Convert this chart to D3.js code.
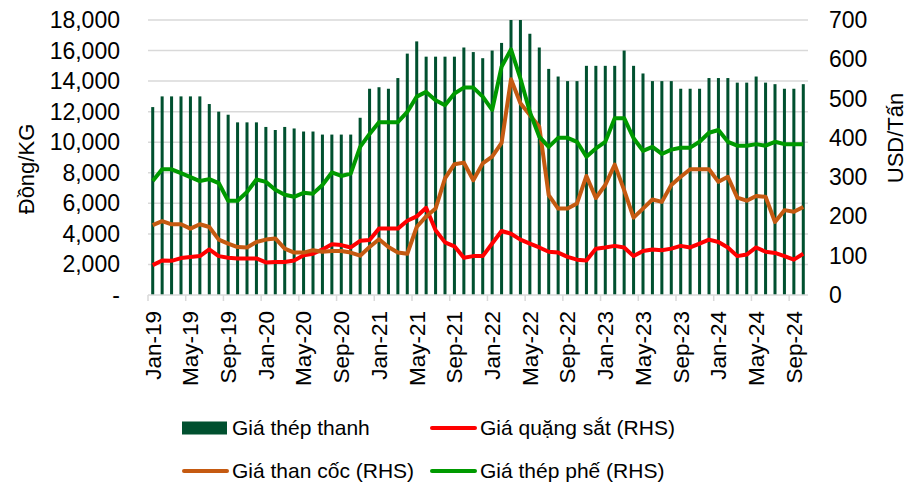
<!doctype html>
<html lang="vi">
<head>
<meta charset="utf-8" />
<title>Giá thép thanh và nguyên liệu</title>
<script src="https://d3js.org/d3.v7.min.js"></script>
<style>
  body { margin: 0; background: #fff; }
  text { font-family: "Liberation Sans", Arial, sans-serif; fill: #000; }
</style>
</head>
<body>
<script>
// categories: monthly, Jan-19 .. Oct-24
var months = d3.timeMonths(new Date(2019, 0, 1), new Date(2024, 10, 1)).map(d3.timeFormat("%b-%y"));
var tickLabels = ["Jan-19","May-19","Sep-19","Jan-20","May-20","Sep-20","Jan-21","May-21","Sep-21",
                  "Jan-22","May-22","Sep-22","Jan-23","May-23","Sep-23","Jan-24","May-24","Sep-24"];
var leftTicks = [0, 2000, 4000, 6000, 8000, 10000, 12000, 14000, 16000, 18000];
var rightTicks = [0, 100, 200, 300, 400, 500, 600, 700];

// Giá thép thanh (Đồng/KG)
var thepThanh = [12300,13000,13000,13000,13000,13000,12500,12000,11800,11300,11300,11300,
                 11000,10800,11000,10900,10700,10700,10500,10500,10500,10500,11600,13500,
                 13600,13500,14200,15800,16600,15600,15600,15600,15600,16200,15900,15500,
                 16000,16500,18000,18000,17100,16200,14800,14300,14000,14000,15000,15000,
                 15000,15000,16000,15000,14500,14000,14000,14000,13500,13500,13500,14200,
                 14200,14200,13900,13900,14300,13900,13800,13500,13500,13800];
// Giá quặng sắt (RHS, USD/Tấn)
var quangSat = [76,88,87,94,97,99,116,99,95,93,93,93,
                83,84,84,88,101,105,116,129,127,121,138,140,
                169,169,169,189,200,222,165,134,124,95,99,99,
                131,163,156,141,131,121,110,108,97,90,88,118,
                121,125,121,99,112,116,114,118,125,121,131,141,
                135,121,99,103,121,110,107,99,90,105];
// Giá than cốc (RHS)
var thanCoc = [178,188,180,180,169,180,173,141,131,122,121,135,
               141,144,118,108,108,114,110,112,112,108,100,122,
               142,122,108,105,173,200,220,297,333,337,292,335,
               352,387,549,488,458,428,254,220,220,233,303,247,
               280,332,267,197,220,243,237,280,301,320,320,320,
               288,301,248,240,252,250,186,216,212,224];
// Giá thép phế (RHS)
var thepPhe = [290,320,320,310,300,290,295,285,240,240,262,294,
               288,268,255,250,260,258,280,312,303,309,377,410,
               440,440,440,466,505,517,496,483,513,528,528,505,
               471,581,625,551,466,403,377,400,400,390,352,373,
               390,450,450,399,367,377,359,370,375,375,390,413,
               420,390,380,380,384,380,390,384,384,384];

var w = 923, h = 485;
var plotL = 148, plotR = 808, plotT = 20, plotB = 295;

var barColor = "#00502f";
var series = [
  { name: "Giá quặng sắt (RHS)", values: quangSat, color: "#ff0000" },
  { name: "Giá than cốc (RHS)", values: thanCoc, color: "#c55a11" },
  { name: "Giá thép phế (RHS)", values: thepPhe, color: "#009a00" }
];

var svg = d3.select("body").append("svg")
  .attr("width", w)
  .attr("height", h)
  .style("background", "#fff");

var x = d3.scaleBand()
  .domain(months)
  .range([plotL, plotR])
  .paddingInner(0.68)
  .paddingOuter(0.34);

var yL = d3.scaleLinear().domain([0, 18000]).range([plotB, plotT]);
var yR = d3.scaleLinear().domain([0, 700]).range([plotB, plotT]);

var step = x.step();
var bw = x.bandwidth();
var cx = function(m) { return x(m) + bw / 2; };

// gridlines
svg.append("g").selectAll("line")
  .data(leftTicks.filter(function(d) { return d > 0; }))
  .enter().append("line")
  .attr("x1", plotL).attr("x2", plotR)
  .attr("y1", function(d) { return yL(d); })
  .attr("y2", function(d) { return yL(d); })
  .attr("stroke", "#d9d9d9")
  .attr("stroke-width", 1.5);

// bars
svg.append("g").selectAll("rect")
  .data(thepThanh)
  .enter().append("rect")
  .attr("x", function(d, i) { return x(months[i]); })
  .attr("y", function(d) { return yL(d); })
  .attr("width", bw)
  .attr("height", function(d) { return yL(0) - yL(d); })
  .attr("fill", barColor);

// x axis line + ticks between categories
svg.append("line")
  .attr("x1", plotL).attr("x2", plotR)
  .attr("y1", plotB).attr("y2", plotB)
  .attr("stroke", "#d9d9d9").attr("stroke-width", 1.5);

svg.append("g").selectAll("line")
  .data(tickLabels)
  .enter().append("line")
  .attr("x1", function(d) { return x(d) - (step - bw) / 2; })
  .attr("x2", function(d) { return x(d) - (step - bw) / 2; })
  .attr("y1", plotB).attr("y2", plotB + 6)
  .attr("stroke", "#d9d9d9").attr("stroke-width", 1.5);

svg.append("g").selectAll("text")
  .data(tickLabels)
  .enter().append("text")
  .attr("transform", function(d) { return "translate(" + cx(d) + "," + (plotB + 16) + ") rotate(-90)"; })
  .attr("text-anchor", "end")
  .attr("dy", "0.35em")
  .attr("font-size", "22.5px")
  .text(function(d) { return d; });

// lines
var line = d3.line()
  .x(function(d, i) { return cx(months[i]); })
  .y(function(d) { return yR(d); });

series.forEach(function(s) {
  svg.append("path")
    .datum(s.values)
    .attr("d", line)
    .attr("fill", "none")
    .attr("stroke", s.color)
    .attr("stroke-width", 4)
    .attr("stroke-linejoin", "round");
});

// left axis labels
svg.append("g").selectAll("text")
  .data(leftTicks)
  .enter().append("text")
  .attr("x", 120)
  .attr("y", function(d) { return yL(d); })
  .attr("dy", "0.35em")
  .attr("text-anchor", "end")
  .attr("font-size", "23px")
  .text(function(d) { return d === 0 ? "-" : d3.format(",")(d); });

// right axis labels
svg.append("g").selectAll("text")
  .data(rightTicks)
  .enter().append("text")
  .attr("x", 829)
  .attr("y", function(d) { return yR(d); })
  .attr("dy", "0.35em")
  .attr("text-anchor", "start")
  .attr("font-size", "23px")
  .text(function(d) { return d; });

// axis titles
svg.append("text")
  .attr("transform", "translate(34,169) rotate(-90)")
  .attr("text-anchor", "middle")
  .attr("font-size", "22px")
  .text("Đồng/KG");

svg.append("text")
  .attr("transform", "translate(903,138) rotate(-90)")
  .attr("text-anchor", "middle")
  .attr("font-size", "22px")
  .text("USD/Tấn");

// legend
var legend = [
  { name: "Giá thép thanh", color: barColor, bar: true, lx: 182, ly: 428 },
  { name: series[0].name, color: series[0].color, lx: 430, ly: 428 },
  { name: series[1].name, color: series[1].color, lx: 182, ly: 471 },
  { name: series[2].name, color: series[2].color, lx: 430, ly: 471 }
];

var lg = svg.append("g").selectAll("g")
  .data(legend)
  .enter().append("g");

lg.each(function(d) {
  var g = d3.select(this);
  if (d.bar) {
    g.append("rect")
      .attr("x", d.lx).attr("y", d.ly - 6.5)
      .attr("width", 45).attr("height", 13)
      .attr("fill", d.color);
  } else {
    g.append("line")
      .attr("x1", d.lx + 2).attr("x2", d.lx + 45)
      .attr("y1", d.ly).attr("y2", d.ly)
      .attr("stroke", d.color)
      .attr("stroke-width", 4)
      .attr("stroke-linecap", "round");
  }
  g.append("text")
    .attr("x", d.lx + 50)
    .attr("y", d.ly)
    .attr("dy", "0.35em")
    .attr("font-size", "21px")
    .text(d.name);
});
</script>
</body>
</html>
